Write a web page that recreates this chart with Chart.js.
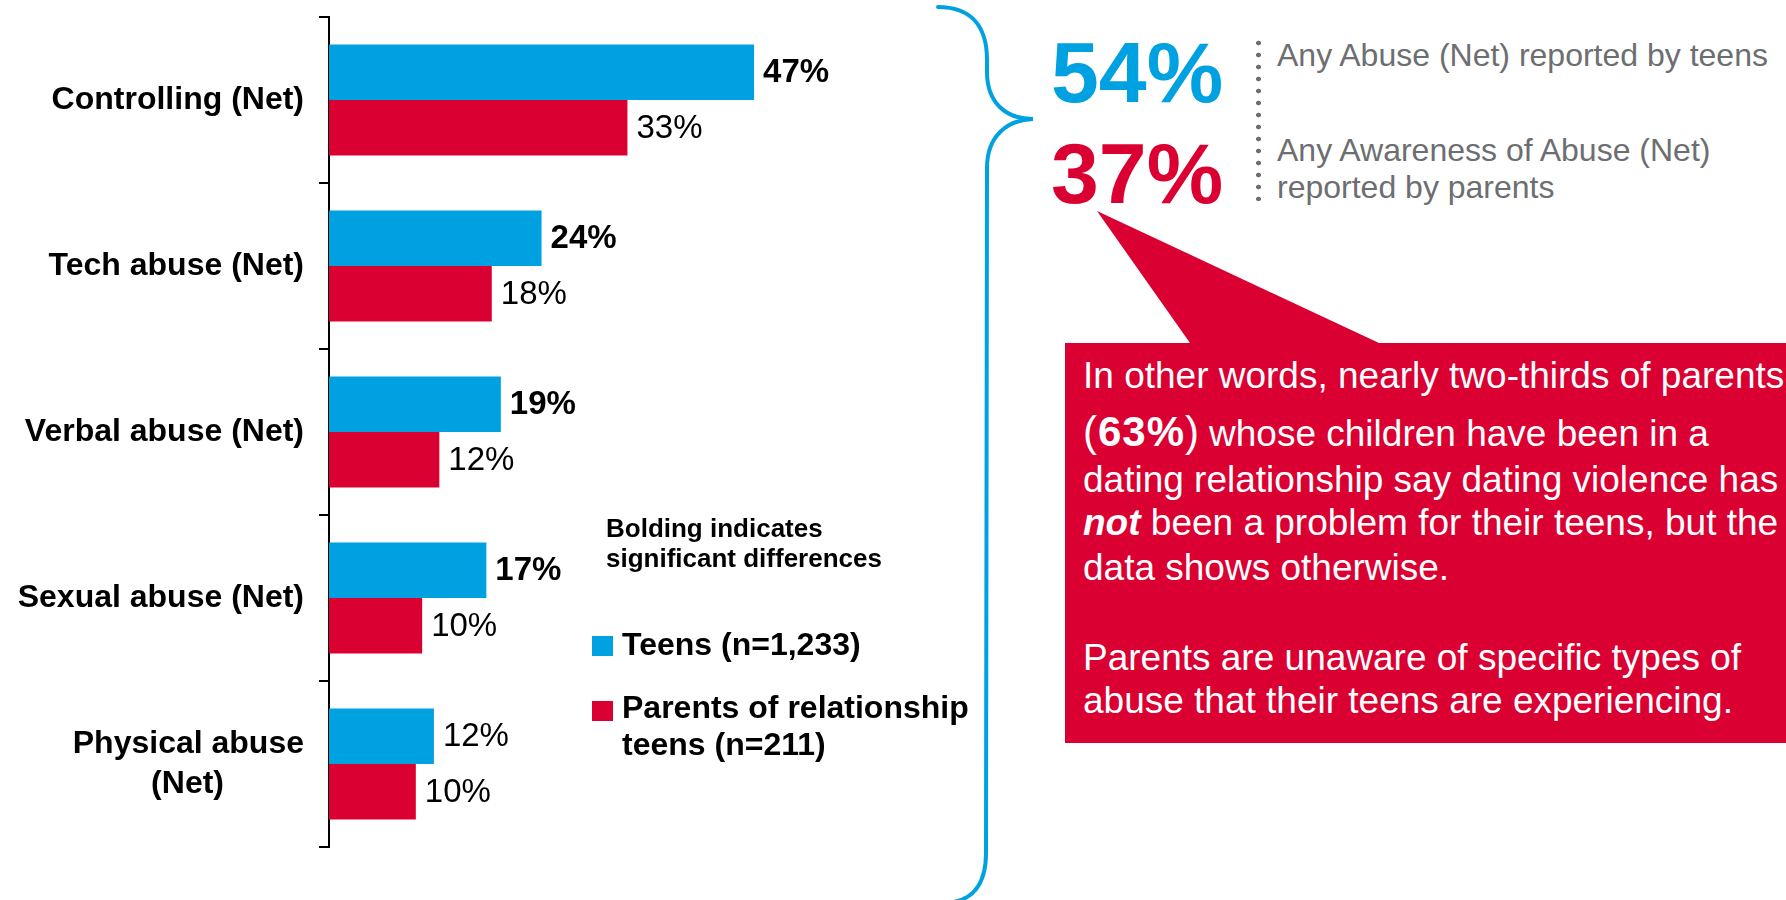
<!DOCTYPE html>
<html><head><meta charset="utf-8">
<script src="https://cdn.jsdelivr.net/npm/chart.js@4.4.1/dist/chart.umd.min.js"></script>
<style>
html,body{margin:0;padding:0;background:#fff;}
body{width:1786px;height:900px;overflow:hidden;position:relative;font-family:'Liberation Sans',Arial,sans-serif;}
#chartWrap{position:absolute;left:0;top:0;width:900px;height:900px;z-index:1;}
svg#deco{position:absolute;left:0;top:0;z-index:0;}
.t{position:absolute;white-space:nowrap;z-index:2;}
.sq{position:absolute;z-index:2;}
.box{color:#fff;font-size:37px;line-height:37px;}
</style></head><body>
<svg id="deco" width="1786" height="900">
  <path d="M1065 343 L1190 343 L1097 211 L1379 343 L1790 343 L1790 743 L1065 743 Z" fill="#DB0032"/>
  <path d="M938 7 C970 7 987 25 987 60 L987 72 C987 102 1005 119 1033 119 C1008 120 987 135 987 168 L986 853 C986 885 972 902 945 903" fill="none" stroke="#00A1E0" stroke-width="4" stroke-linecap="round"/>
</svg>
<div id="chartWrap"><canvas id="c" width="900" height="900"></canvas></div>

<div class="t" style="left:606px;top:513px;font-size:26px;line-height:30px;font-weight:bold;color:#000;">Bolding indicates<br>significant differences</div>
<div id="legend"></div>

<div class="t" style="left:1051px;top:29px;font-size:86px;line-height:86px;font-weight:bold;color:#00A1E0;">54%</div>
<div class="t" style="left:1051px;top:130px;font-size:86px;line-height:86px;font-weight:bold;color:#DB0032;">37%</div>
<div class="t" style="left:1256px;top:37px;width:5px;height:164px;background:radial-gradient(circle at 2.5px 6px,#6D6E71 2.1px,rgba(0,0,0,0) 2.7px) 0 0/5px 12px repeat-y;"></div>
<div class="t" style="left:1277px;top:37px;font-size:32px;line-height:37px;color:#6D6E71;">Any Abuse (Net) reported by teens</div>
<div class="t" style="left:1277px;top:132px;font-size:32px;line-height:37px;color:#6D6E71;">Any Awareness of Abuse (Net)<br>reported by parents</div>

<div class="t box" style="left:1083px;top:357px;">In other words, nearly two-thirds of parents</div>
<div class="t box" style="left:1083px;top:413px;"><span style="font-size:42px;letter-spacing:1px;">(<b>63%</b>)</span><span style="margin-left:9px;">whose children have been in a</span></div>
<div class="t box" style="left:1083px;top:461px;">dating relationship say dating violence has</div>
<div class="t box" style="left:1083px;top:504px;"><b><i>not</i></b> been a problem for their teens, but the</div>
<div class="t box" style="left:1083px;top:549px;">data shows otherwise.</div>
<div class="t box" style="left:1083px;top:639px;">Parents are unaware of specific types of</div>
<div class="t box" style="left:1083px;top:682px;">abuse that their teens are experiencing.</div>

<script>
const categoryLabels = ['Controlling (Net)', 'Tech abuse (Net)', 'Verbal abuse (Net)', 'Sexual abuse (Net)', ['Physical abuse', '(Net)         ']];
const teensValues = [47, 23.5, 19, 17.4, 11.6];
const parentsValues = [33, 18, 12.2, 10.3, 9.6];
const teensBold = [true, true, true, true, false];
const parentsBold = [false, false, false, false, false];
const seriesNames = ['Teens (n=1,233)', 'Parents of relationship teens (n=211)'];
const seriesColors = ['#00A1E0', '#DB0032'];

const FONT = "'Liberation Sans', Arial, sans-serif";

const valueLabels = {
  id: 'valueLabels',
  afterDatasetsDraw(chart) {
    const ctx = chart.ctx;
    ctx.save();
    ctx.textBaseline = 'middle';
    ctx.textAlign = 'left';
    ctx.fillStyle = '#000';
    chart.data.datasets.forEach((ds, di) => {
      const meta = chart.getDatasetMeta(di);
      meta.data.forEach((el, i) => {
        const bold = ds.boldFlags[i];
        ctx.font = (bold ? 'bold ' : '') + '33px ' + FONT;
        ctx.fillText(Math.round(ds.data[i]) + '%', el.x + 9, el.y + 1);
      });
    });
    ctx.restore();
  }
};

const chart = new Chart(document.getElementById('c'), {
  type: 'bar',
  data: {
    labels: categoryLabels,
    datasets: [
      { label: seriesNames[0], data: teensValues, backgroundColor: seriesColors[0], boldFlags: teensBold,
        barPercentage: 1.0, categoryPercentage: 0.67, borderWidth: 0 },
      { label: seriesNames[1], data: parentsValues, backgroundColor: seriesColors[1], boldFlags: parentsBold,
        barPercentage: 1.0, categoryPercentage: 0.67, borderWidth: 0 }
    ]
  },
  options: {
    indexAxis: 'y',
    responsive: false,
    animation: false,
    layout: { padding: { top: 17, bottom: 53, left: 0, right: 118.8 } },
    plugins: { legend: { display: false }, tooltip: { enabled: false } },
    scales: {
      x: { display: false, min: 0, max: 50 },
      y: {
        position: 'left',
        grid: { display: true, drawOnChartArea: false, drawTicks: true, tickLength: 10, color: '#000', lineWidth: 2, offset: true },
        border: { display: true, color: '#000', width: 2 },
        ticks: { color: '#000', padding: 15, font: { family: FONT, size: 32, weight: 'bold', lineHeight: 1.25 } },
        afterFit(scale) { scale.width = 329; scale.paddingTop = 0; scale.paddingBottom = 0; }
      }
    }
  },
  plugins: [valueLabels]
});

// HTML legend built from the datasets
const legend = document.getElementById('legend');
const legendPos = [{ sq: 636, txt: 626 }, { sq: 701, txt: 689 }];
chart.data.datasets.forEach((ds, i) => {
  const sq = document.createElement('div');
  sq.className = 'sq';
  sq.style.cssText = `left:592px;top:${legendPos[i].sq}px;width:21px;height:20px;background:${ds.backgroundColor};`;
  legend.appendChild(sq);
  const tx = document.createElement('div');
  tx.className = 't';
  tx.style.cssText = `left:622px;top:${legendPos[i].txt}px;width:365px;white-space:normal;font-size:32px;line-height:37px;font-weight:bold;color:#000;`;
  tx.textContent = ds.label;
  legend.appendChild(tx);
});
</script>
</body></html>
